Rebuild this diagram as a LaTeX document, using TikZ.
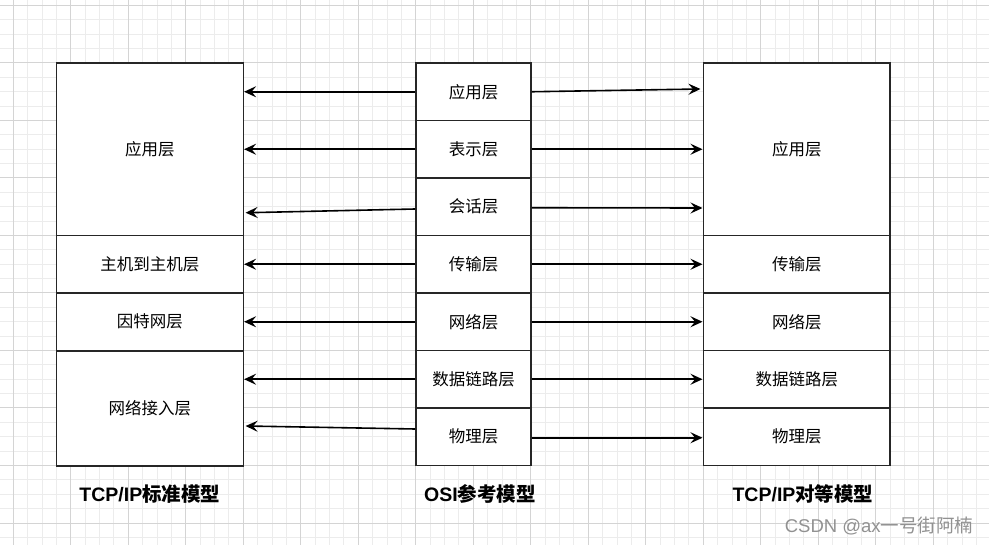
\documentclass[tikz,border=0pt]{standalone}
\usepackage{fontspec}
\setmainfont{Noto Sans CJK SC}
\newfontfamily\arialike{Liberation Sans}
\usetikzlibrary{arrows.meta}
\definecolor{gridminor}{RGB}{236,236,236}
\definecolor{gridmajor}{RGB}{212,212,212}
\definecolor{marktext}{RGB}{145,145,145}

\begin{document}
\begin{tikzpicture}[x=1pt,y=-1pt,
    layer/.style={draw=black!85,line width=1.6pt,inner sep=0pt,minimum width=#1,font=\fontsize{16.5}{19}\selectfont},
    osilayer/.style={layer=115pt,minimum height=57.5pt},
    conn/.style={line width=1.6pt,-{Stealth[length=12pt,width=11pt,inset=4.5pt]}},
    title/.style={font=\fontsize{19.5}{23}\selectfont\bfseries}]
    \useasboundingbox (0,0) rectangle (989,545);
    \foreach \i in {0,...,69} \draw[gridminor,line width=1pt] ({-1.075+14.375*\i},0) -- ++(0,545);
    \foreach \i in {0,...,38} \draw[gridminor,line width=1pt] (0,{-8.875+14.375*\i}) -- ++(989,0);
    \foreach \i in {0,...,17} \draw[gridmajor,line width=1pt] ({13.3+57.5*\i},0) -- ++(0,545);
    \foreach \i in {0,...,9} \draw[gridmajor,line width=1pt] (0,{5.5+57.5*\i}) -- ++(989,0);
    \fill[white] (56.4,63) rectangle (243.3,465.5);
    \fill[white] (416,63) rectangle (531,465.5);
    \fill[white] (703.3,63) rectangle (890.2,465.5);

    \node[layer=186.9pt,minimum height=172.5pt] (stdapp) at (149.85,149.25) {应用层};
    \node[layer=186.9pt,minimum height=57.5pt] (stdhost) at (149.85,264.25) {主机到主机层};
    \node[layer=186.9pt,minimum height=57.5pt] (stdnet) at (149.85,321.75) {因特网层};
    \node[layer=186.9pt,minimum height=115pt] (stdlink) at (149.85,408.5) {网络接入层};

    \node[osilayer] (osiapp) at (473.5,91.75) {应用层};
    \node[osilayer] (osipres) at (473.5,149.25) {表示层};
    \node[osilayer] (osisess) at (473.5,206.75) {会话层};
    \node[osilayer] (ositrans) at (473.5,264.25) {传输层};
    \node[osilayer] (osinet) at (473.5,321.75) {网络层};
    \node[osilayer] (osilink) at (473.5,379.25) {数据链路层};
    \node[osilayer] (osiphy) at (473.5,436.75) {物理层};

    \node[layer=186.9pt,minimum height=172.5pt] (peerapp) at (796.75,149.25) {应用层};
    \node[layer=186.9pt,minimum height=57.5pt] (peertrans) at (796.75,264.25) {传输层};
    \node[layer=186.9pt,minimum height=57.5pt] (peernet) at (796.75,321.75) {网络层};
    \node[layer=186.9pt,minimum height=57.5pt] (peerlink) at (796.75,379.25) {数据链路层};
    \node[layer=186.9pt,minimum height=57.5pt] (peerphy) at (796.75,436.75) {物理层};

    \draw[conn] (osiapp.west) -- (stdapp.east |- osiapp.west);
    \draw[conn] (osipres.west) -- (stdapp.east |- osipres.west);
    \draw[conn] ([yshift=-2.25pt]osisess.west) -- ([xshift=1.5pt,yshift=-6pt]stdapp.east |- osisess.west);
    \draw[conn] (ositrans.west) -- (stdhost.east |- ositrans.west);
    \draw[conn] (osinet.west) -- (stdnet.east |- osinet.west);
    \draw[conn] (osilink.west) -- (stdlink.east |- osilink.west);
    \draw[conn] ([yshift=7.75pt]osiphy.west) -- ([xshift=1.5pt,yshift=10.75pt]stdlink.east |- osiphy.west);

    \draw[conn] (osiapp.east) -- ([xshift=-2pt,yshift=2.75pt]peerapp.west |- osiapp.east);
    \draw[conn] (osipres.east) -- (peerapp.west |- osipres.east);
    \draw[conn] ([yshift=-1pt]osisess.east) -- ([yshift=-1.25pt]peerapp.west |- osisess.east);
    \draw[conn] (ositrans.east) -- (peertrans.west |- ositrans.east);
    \draw[conn] (osinet.east) -- (peernet.west |- osinet.east);
    \draw[conn] (osilink.east) -- (peerlink.west |- osilink.east);
    \draw[conn] ([yshift=-1pt]osiphy.east) -- ([yshift=-1pt]peerphy.west |- osiphy.east);

    \node[title] (stdtitle) at (149.85,494) {{\arialike TCP/IP}标准模型};
    \node[title] (osititle) at (480,494) {{\arialike OSI}参考模型};
    \node[title] (peertitle) at (803,494) {{\arialike TCP/IP}对等模型};
    \node[text=marktext,font=\fontsize{18.5}{22}\selectfont] (mark) at (879,526) {{\arialike CSDN @ax}一号街阿楠};
\end{tikzpicture}
\end{document}
